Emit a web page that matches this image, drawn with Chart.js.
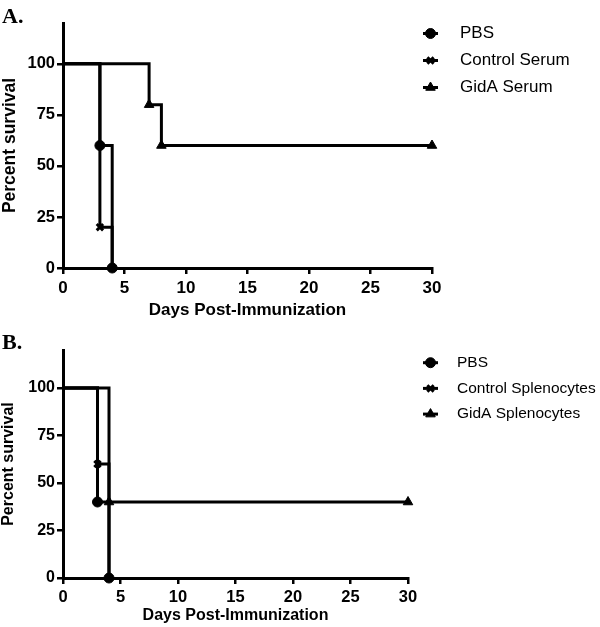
<!DOCTYPE html>
<html><head><meta charset="utf-8">
<script src="https://cdn.jsdelivr.net/npm/chart.js@4"></script>
<style>
body{margin:0;background:#fff;width:600px;height:627px;position:relative;overflow:hidden}
.wrap{position:absolute;left:0;width:600px}
.lab{position:absolute;left:2px;font:bold 22px "Liberation Serif",serif;line-height:22px;color:#000}
</style></head><body>
<div class="wrap" style="top:0;height:320px"><canvas id="ca"></canvas></div>
<div class="wrap" style="top:310px;height:317px"><canvas id="cb"></canvas></div>
<div class="lab" style="top:5px">A.</div>
<div class="lab" style="top:331px">B.</div>
<script>
// ---- data ----
const xTicks = [0, 5, 10, 15, 20, 25, 30];
const yTicks = [0, 25, 50, 75, 100];
const xTitle = 'Days Post-Immunization';
const yTitle = 'Percent survival';

// Panel A
const aLabels = ['PBS', 'Control Serum', 'GidA Serum'];
const aPBSDays = [0, 3, 4];        const aPBSSurv = [100, 60, 0];
const aCtrlDays = [0, 3, 4];       const aCtrlSurv = [100, 20, 0];
const aGidDays = [0, 7, 8, 30];    const aGidSurv = [100, 80, 60, 60];

// Panel B
const bLabels = ['PBS', 'Control Splenocytes', 'GidA Splenocytes'];
const bPBSDays = [0, 3, 4];        const bPBSSurv = [100, 40, 0];
const bCtrlDays = [0, 3, 4];       const bCtrlSurv = [100, 60, 0];
const bGidDays = [0, 4, 30];       const bGidSurv = [100, 40, 40];

// ---- rendering ----
const F = '"Liberation Sans", Arial, sans-serif';

function drawMarker(ctx, style, r, bw, x, y) {
  ctx.fillStyle = '#000'; ctx.strokeStyle = '#000'; ctx.lineWidth = bw;
  if (Chart.helpers && Chart.helpers.drawPoint) {
    Chart.helpers.drawPoint(ctx, {pointStyle: style, radius: r, borderWidth: bw, rotation: 0}, x, y);
    return;
  }
  ctx.beginPath();
  if (style === 'circle') { ctx.arc(x, y, r, 0, Math.PI * 2); ctx.fill(); ctx.stroke(); }
  else if (style === 'triangle') { ctx.moveTo(x, y - r); ctx.lineTo(x + r * 0.866, y + r / 2); ctx.lineTo(x - r * 0.866, y + r / 2); ctx.closePath(); ctx.fill(); ctx.stroke(); }
  else { const d = r * 0.707; ctx.moveTo(x - d, y - d); ctx.lineTo(x + d, y + d); ctx.moveTo(x + d, y - d); ctx.lineTo(x - d, y + d); ctx.stroke(); }
}

const legendPlugin = {
  id: 'kmLegend',
  afterDraw(chart, args, opts) {
    const ctx = chart.ctx;
    ctx.save();
    chart.data.datasets.forEach((ds, i) => {
      const y = opts.y0 + i * opts.dy, x = opts.x0;
      ctx.strokeStyle = '#000'; ctx.lineWidth = 3;
      ctx.beginPath(); ctx.moveTo(x, y); ctx.lineTo(x + 15, y); ctx.stroke();
      drawMarker(ctx, ds.pointStyle, ds.legendRadius, ds.pointBorderWidth, x + 7.5, y);
      ctx.fillStyle = '#000'; ctx.font = opts.font; ctx.textBaseline = 'middle'; ctx.textAlign = 'left';
      ctx.fillText(ds.label, opts.tx, y);
    });
    ctx.restore();
  }
};

function series(label, days, surv, style, r, bw) {
  return {
    label, data: days.map((d, i) => ({x: d, y: surv[i]})),
    stepped: true, borderColor: '#000', backgroundColor: '#000', borderWidth: 3,
    pointStyle: style, pointRadius: c => c.dataIndex === 0 ? 0 : r, pointHoverRadius: 0,
    pointBorderWidth: bw, pointBackgroundColor: '#000', pointBorderColor: '#000',
    fill: false, clip: false, legendRadius: r
  };
}

function makeChart(id, h, labels, sets, cfg) {
  const cv = document.getElementById(id);
  cv.width = 600; cv.height = h;
  const datasets = [
    series(labels[0], sets[0][0], sets[0][1], 'circle', 5, 1),
    series(labels[1], sets[1][0], sets[1][1], 'crossRot', 4.5, 3),
    series(labels[2], sets[2][0], sets[2][1], 'triangle', 5.5, 1)
  ];
  return new Chart(cv, {
    type: 'line',
    data: {datasets},
    plugins: [legendPlugin],
    options: {
      responsive: false, animation: false, events: [],
      layout: {padding: {top: cfg.top, right: cfg.right, left: 0, bottom: cfg.bottom}},
      plugins: {legend: {display: false}, tooltip: {enabled: false}, kmLegend: cfg.legend},
      scales: {
        x: {
          type: 'linear', min: 0, max: 30,
          afterBuildTicks: s => { s.ticks = xTicks.map(v => ({value: v})); },
          afterFit: s => { s.height = cfg.xh; },
          grid: {drawOnChartArea: false, drawTicks: true, tickLength: 6, color: '#000', lineWidth: 2.5},
          border: {display: true, color: '#000', width: 3},
          ticks: {color: '#000', font: {family: F, size: cfg.tick, weight: 'bold'}, padding: 4, maxRotation: 0, autoSkip: false},
          title: {display: true, text: xTitle, color: '#000', font: {family: F, size: cfg.xt, weight: 'bold', lineHeight: 1}, padding: {top: 0, bottom: 0}}
        },
        y: {
          type: 'linear', min: 0, max: 120,
          afterBuildTicks: s => { s.ticks = yTicks.map(v => ({value: v})); },
          afterFit: s => { s.width = 63; },
          grid: {drawOnChartArea: false, drawTicks: true, tickLength: 6, color: '#000', lineWidth: 2.5},
          border: {display: true, color: '#000', width: 3},
          ticks: {color: '#000', font: {family: F, size: cfg.ytick, weight: 'bold'}, padding: 2, autoSkip: false},
          title: {display: true, text: yTitle, color: '#000', font: {family: F, size: cfg.yt, weight: 'bold', lineHeight: 1}, padding: {top: 1, bottom: 0}}
        }
      }
    }
  });
}

makeChart('ca', 320, aLabels,
  [[aPBSDays, aPBSSurv], [aCtrlDays, aCtrlSurv], [aGidDays, aGidSurv]],
  {top: 23, right: 168, bottom: 1, xh: 51, tick: 17, ytick: 16.5, xt: 17, yt: 17.5,
   legend: {x0: 423, tx: 460, y0: 33.5, dy: 27, font: '17px ' + F}});

makeChart('cb', 317, bLabels,
  [[bPBSDays, bPBSSurv], [bCtrlDays, bCtrlSurv], [bGidDays, bGidSurv]],
  {top: 40, right: 192, bottom: 3, xh: 46, tick: 16.5, ytick: 16, xt: 16, yt: 16,
   legend: {x0: 423, tx: 457, y0: 52.7, dy: 25.7, font: '15.5px ' + F}});
</script>
</body></html>
